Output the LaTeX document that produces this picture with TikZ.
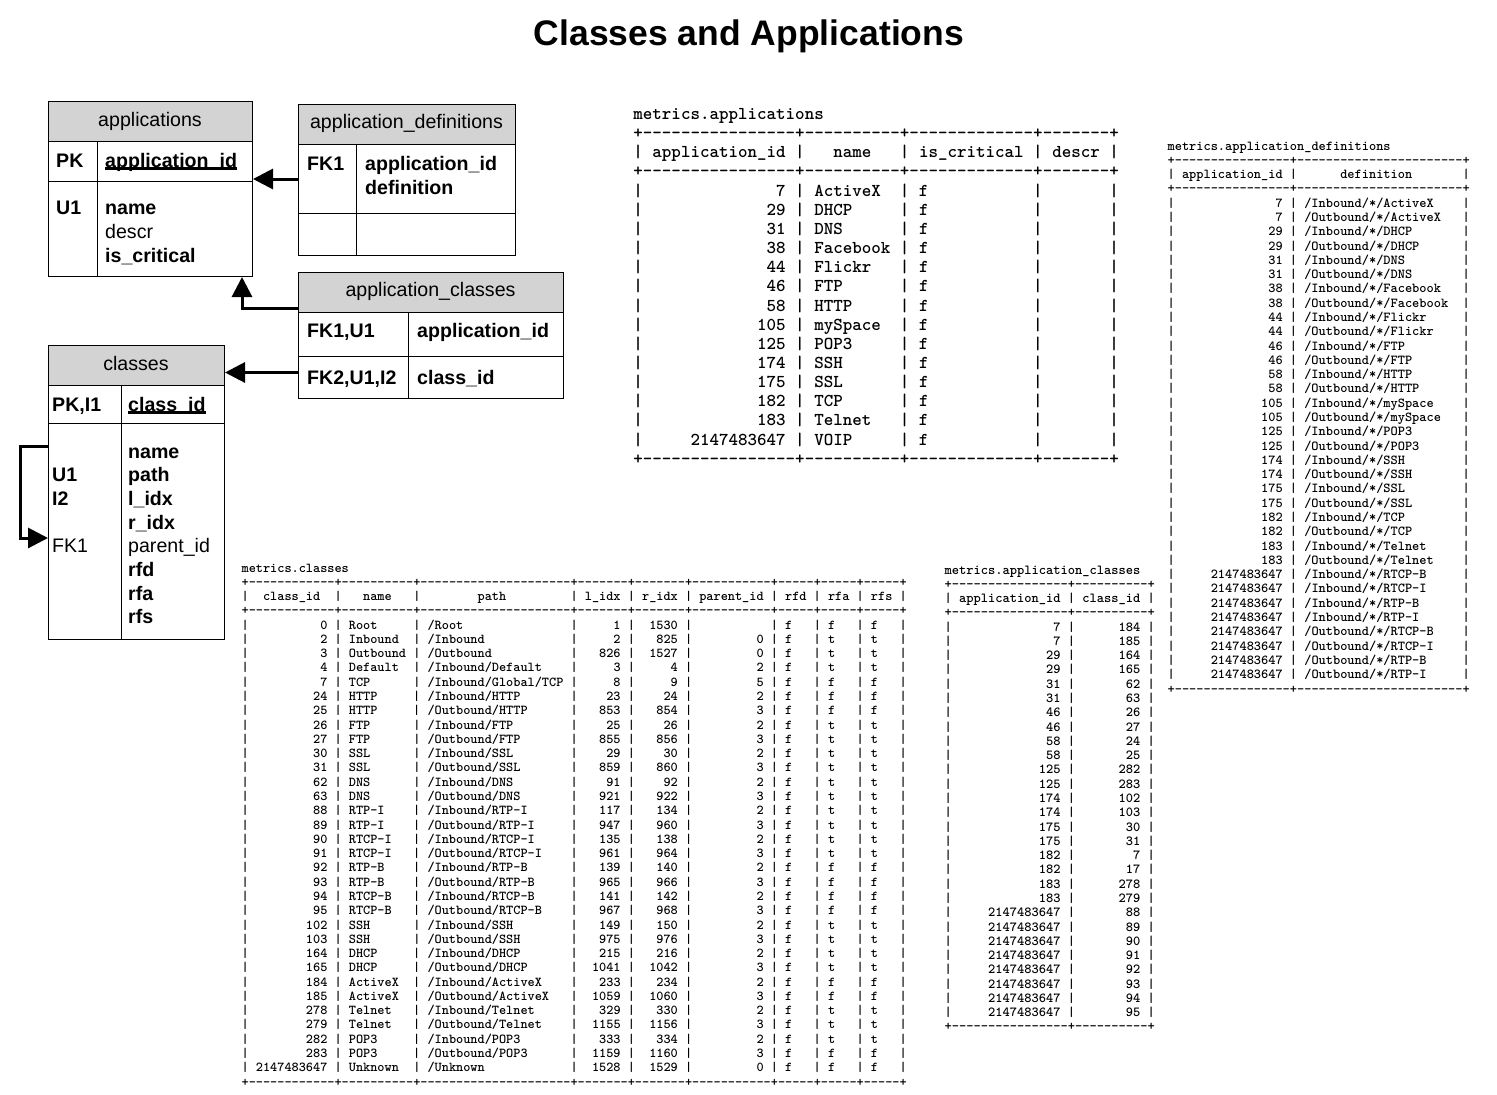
\documentclass[tikz,border=0pt]{standalone}
\usepackage{fontspec}
\setmainfont{Liberation Sans}
\usetikzlibrary{arrows.meta}
\definecolor{hdr}{RGB}{211,211,211}
\ExplSyntaxOn
\cs_new:Npn \dsh #1 { \prg_replicate:nn {#1} {\hbox{-}} }
\ExplSyntaxOff
\makeatletter
\newcommand\ttw[1]{%
  \ttfamily\bfseries\fontsize{10}{12}\selectfont
  \edef\tt@s{\the\dimexpr 10pt*\number\dimexpr#1pt\relax/\number\fontcharwd\font`0\relax}%
  \fontsize{\tt@s}{14}\selectfont
  \edef\tt@t{\the\dimexpr \tt@s*\number\dimexpr#1pt\relax/\number\fontcharwd\font`0\relax}%
  \fontsize{\tt@t}{14}\selectfont}
\makeatother
\newcommand\cc[1]{\dimexpr\fontcharwd\font`0*#1\relax}
\newcommand\sk[1]{\kern\cc{#1}}
\newcommand\rb[2]{\makebox[\cc{#1}][r]{#2}}
\newcommand\lb[2]{\makebox[\cc{#1}][l]{#2}}
\newcommand\arow[3]{| \rb{14}{#1} | \lb{8}{#2} | \lb{11}{#3} | \lb{5}{} |}
\newcommand\crow[9]{| \rb{10}{#1} | \lb{8}{#2} | \lb{19}{#3} | \rb{5}{#4} | \rb{5}{#5} | \rb{9}{#6} | \lb{3}{#7} | \lb{3}{#8} | \lb{3}{#9} |}
\newcommand\drow[2]{| \rb{14}{#1} | \lb{21}{#2} |}
\newcommand\acrow[2]{| \rb{14}{#1} | \rb{8}{#2} |}
\newcommand\aborder{+\dsh{16}+\dsh{10}+\dsh{13}+\dsh{7}+}
\newcommand\cborder{+\dsh{12}+\dsh{10}+\dsh{21}+\dsh{7}+\dsh{7}+\dsh{11}+\dsh{5}+\dsh{5}+\dsh{5}+}
\newcommand\dborder{+\dsh{16}+\dsh{23}+}
\newcommand\acborder{+\dsh{16}+\dsh{10}+}
\begin{document}
\begin{tikzpicture}[x=1pt,y=-1pt,
  erf/.style={font=\fontsize{19.6}{24}\selectfont, inner sep=0pt, anchor=base west},
  erb/.style={erf, font=\fontsize{19.6}{24}\selectfont\bfseries},
  erh/.style={font=\fontsize{19.6}{24}\selectfont, inner sep=0pt, anchor=base},
  box/.style={draw, line width=1pt, inner sep=0pt, anchor=north west},
  hbox/.style={box, fill=hdr},
  divl/.style={line width=1pt},
  arr/.style={line width=3pt, -{Triangle[length=20pt,width=20pt]}},
  ttl/.style={anchor=base west, inner sep=0pt},
  ulin/.style={line width=2.5pt}
]
\useasboundingbox (0,0) rectangle (1497,1095);
\fill[white] (0,0) rectangle (1497,1095);

% title
\node[font=\fontsize{35.5}{40}\selectfont\bfseries, anchor=base, inner sep=0pt] (title) at (749,45.5) {Classes and Applications};

% ---------- ER: applications
\node[hbox, minimum width=204pt, minimum height=40pt] (appsH) at (48,101) {};
\node[box, minimum width=204pt, minimum height=40pt] (appsK) at (48,141) {};
\node[box, minimum width=204pt, minimum height=95pt] (appsB) at (48,181) {};
\draw[divl] ([xshift=49pt]appsK.north west) -- ([xshift=49pt]appsB.south west);
\node[erh] (tA) at (150,126.7) {applications};
\node[erb] (pkA) at (56,167) {PK};
\node[erb] (idA) at (105,167) {application\_id};
\draw[ulin] ([yshift=-1.5pt]idA.base west) -- ([yshift=-1.5pt]idA.base east);
\node[erb] (u1A) at (56,214) {U1};
\node[erb] (nmA) at (105,214) {name};
\node[erf] (dsA) at (105,238) {descr};
\node[erb] (icA) at (105,262) {is\_critical};

% ---------- ER: application_definitions
\node[hbox, minimum width=217pt, minimum height=40pt] (defH) at (298,104) {};
\node[box, minimum width=217pt, minimum height=69pt] (defR1) at (298,144) {};
\node[box, minimum width=217pt, minimum height=42pt] (defR2) at (298,213) {};
\draw[divl] ([xshift=58pt]defR1.north west) -- ([xshift=58pt]defR2.south west);
\node[erh] (tD) at (406.5,128) {application\_definitions};
\node[erb] (fkD) at (307,170) {FK1};
\node[erb] (idD) at (365,170) {application\_id};
\node[erb] (dfD) at (365,194) {definition};

% ---------- ER: application_classes
\node[hbox, minimum width=265pt, minimum height=40pt] (acH) at (298,272) {};
\node[box, minimum width=265pt, minimum height=44pt] (acR1) at (298,312) {};
\node[box, minimum width=265pt, minimum height=42pt] (acR2) at (298,356) {};
\draw[divl] ([xshift=110pt]acR1.north west) -- ([xshift=110pt]acR2.south west);
\node[erh] (tC) at (430.5,296.7) {application\_classes};
\node[erb] (fkC1) at (307,337) {FK1,U1};
\node[erb] (idC) at (417,337) {application\_id};
\node[erb] (fkC2) at (307,384) {FK2,U1,I2};
\node[erb] (ciC) at (417,384) {class\_id};

% ---------- ER: classes
\node[hbox, minimum width=176pt, minimum height=40pt] (clsH) at (48,345) {};
\node[box, minimum width=176pt, minimum height=38pt] (clsK) at (48,385) {};
\node[box, minimum width=176pt, minimum height=216pt] (clsB) at (48,423) {};
\draw[divl] ([xshift=73pt]clsK.north west) -- ([xshift=73pt]clsB.south west);
\node[erh] (tK) at (136,370) {classes};
\node[erb] (pkK) at (52,411) {PK,I1};
\node[erb] (idK) at (128,411) {class\_id};
\draw[ulin] ([yshift=-1.5pt]idK.base west) -- ([yshift=-1.5pt]idK.base east);
\node[erb] (k1) at (128,458) {name};
\node[erb] (k2) at (128,481.7) {path};
\node[erb] (k3) at (128,505.4) {l\_idx};
\node[erb] (k4) at (128,529.1) {r\_idx};
\node[erf] (k5) at (128,552.8) {parent\_id};
\node[erb] (k6) at (128,576.5) {rfd};
\node[erb] (k7) at (128,600.2) {rfa};
\node[erb] (k8) at (128,623.9) {rfs};
\node[erb] (ku1) at (52,481.7) {U1};
\node[erb] (ki2) at (52,505.4) {I2};
\node[erf] (kfk) at (52,552.8) {FK1};

% ---------- connectors
\draw[arr] (defR1.west) -- (defR1.west -| appsK.east);
\draw[arr] ([yshift=5pt]acH.south west) -| ([xshift=-11pt]appsB.south east);
\draw[arr] ([yshift=5pt]acR2.west) -- ([yshift=5pt]acR2.west -| clsH.east);
\draw[arr] ([yshift=-23pt]clsB.north west) -- ++(-28,0) |- ([yshift=-115pt]clsB.north west);

% ---------- metrics.applications
\begin{scope}[every node/.style={ttl, font=\ttw{9.52}}]
\node (aT) at (633.2,119.5) {metrics.applications};
\node (aB1) at (633.2,{119.5+19.15*1}) {\aborder};
\node (aHd) at (633.2,{119.5+19.15*2}) {| application\_id | \makebox[\cc{8}][c]{name} | is\_critical | descr |};
\node (aB2) at (633.2,{119.5+19.15*3}) {\aborder};
\foreach \id/\nm [count=\k from 4] in {7/ActiveX, 29/DHCP, 31/DNS, 38/Facebook, 44/Flickr, 46/FTP, 58/HTTP, 105/mySpace, 125/POP3, 174/SSH, 175/SSL, 182/TCP, 183/Telnet, 2147483647/VOIP}
  \node (aR\k) at (633.2,{119.5+19.15*\k}) {\arow{\id}{\nm}{f}};
\node (aB3) at (633.2,{119.5+19.15*18}) {\aborder};
\end{scope}

% ---------- metrics.application_definitions
\begin{scope}[every node/.style={ttl, font=\ttw{7.195}}]
\node (dT) at (1167.4,150) {metrics.application\_definitions};
\node (dB1) at (1167.4,{150+14.29*1}) {\dborder};
\node (dHd) at (1167.4,{150+14.29*2}) {| application\_id |\sk{6}definition\sk{7}|};
\node (dB2) at (1167.4,{150+14.29*3}) {\dborder};
\foreach \id/\nm/\dr [count=\k from 4] in {7/ActiveX/Inbound, 7/ActiveX/Outbound, 29/DHCP/Inbound, 29/DHCP/Outbound, 31/DNS/Inbound, 31/DNS/Outbound, 38/Facebook/Inbound, 38/Facebook/Outbound, 44/Flickr/Inbound, 44/Flickr/Outbound, 46/FTP/Inbound, 46/FTP/Outbound, 58/HTTP/Inbound, 58/HTTP/Outbound, 105/mySpace/Inbound, 105/mySpace/Outbound, 125/POP3/Inbound, 125/POP3/Outbound, 174/SSH/Inbound, 174/SSH/Outbound, 175/SSL/Inbound, 175/SSL/Outbound, 182/TCP/Inbound, 182/TCP/Outbound, 183/Telnet/Inbound, 183/Telnet/Outbound, 2147483647/RTCP-B/Inbound, 2147483647/RTCP-I/Inbound, 2147483647/RTP-B/Inbound, 2147483647/RTP-I/Inbound, 2147483647/RTCP-B/Outbound, 2147483647/RTCP-I/Outbound, 2147483647/RTP-B/Outbound, 2147483647/RTP-I/Outbound}
  \node (dR\k) at (1167.4,{150+14.29*\k}) {\drow{\id}{/\dr/*/\nm}};
\node (dB3) at (1167.4,{150+14.29*38}) {\dborder};
\end{scope}

% ---------- metrics.application_classes
\begin{scope}[every node/.style={ttl, font=\ttw{7.25}}]
\node (cT) at (944.4,574) {metrics.application\_classes};
\node (cB1) at (944.4,{574+14.28*1}) {\acborder};
\node (cHd) at (944.4,{574+14.28*2}) {| application\_id | class\_id |};
\node (cB2) at (944.4,{574+14.28*3}) {\acborder};
\foreach \id/\ci [count=\k from 4] in {7/184, 7/185, 29/164, 29/165, 31/62, 31/63, 46/26, 46/27, 58/24, 58/25, 125/282, 125/283, 174/102, 174/103, 175/30, 175/31, 182/7, 182/17, 183/278, 183/279, 2147483647/88, 2147483647/89, 2147483647/90, 2147483647/91, 2147483647/92, 2147483647/93, 2147483647/94, 2147483647/95}
  \node (cR\k) at (944.4,{574+14.28*\k}) {\acrow{\id}{\ci}};
\node (cB3) at (944.4,{574+14.28*32}) {\acborder};
\end{scope}

% ---------- metrics.classes
\begin{scope}[every node/.style={ttl, font=\ttw{7.152}}]
\node (kT) at (241.4,572) {metrics.classes};
\node (kB1) at (241.4,{572+14.28*1}) {\cborder};
\node (kHd) at (241.4,{572+14.28*2}) {| \makebox[\cc{10}][c]{class\_id} | \makebox[\cc{8}][c]{name} | \lb{19}{\sk{7}path} | l\_idx | r\_idx | parent\_id | rfd | rfa | rfs |};
\node (kB2) at (241.4,{572+14.28*3}) {\cborder};
\foreach \ln [count=\k from 4] in {
 {\crow{0}{Root}{/Root}{1}{1530}{}{f}{f}{f}},
 {\crow{2}{Inbound}{/Inbound}{2}{825}{0}{f}{t}{t}},
 {\crow{3}{Outbound}{/Outbound}{826}{1527}{0}{f}{t}{t}},
 {\crow{4}{Default}{/Inbound/Default}{3}{4}{2}{f}{t}{t}},
 {\crow{7}{TCP}{/Inbound/Global/TCP}{8}{9}{5}{f}{f}{f}},
 {\crow{24}{HTTP}{/Inbound/HTTP}{23}{24}{2}{f}{f}{f}},
 {\crow{25}{HTTP}{/Outbound/HTTP}{853}{854}{3}{f}{f}{f}},
 {\crow{26}{FTP}{/Inbound/FTP}{25}{26}{2}{f}{t}{t}},
 {\crow{27}{FTP}{/Outbound/FTP}{855}{856}{3}{f}{t}{t}},
 {\crow{30}{SSL}{/Inbound/SSL}{29}{30}{2}{f}{t}{t}},
 {\crow{31}{SSL}{/Outbound/SSL}{859}{860}{3}{f}{t}{t}},
 {\crow{62}{DNS}{/Inbound/DNS}{91}{92}{2}{f}{t}{t}},
 {\crow{63}{DNS}{/Outbound/DNS}{921}{922}{3}{f}{t}{t}},
 {\crow{88}{RTP-I}{/Inbound/RTP-I}{117}{134}{2}{f}{t}{t}},
 {\crow{89}{RTP-I}{/Outbound/RTP-I}{947}{960}{3}{f}{t}{t}},
 {\crow{90}{RTCP-I}{/Inbound/RTCP-I}{135}{138}{2}{f}{t}{t}},
 {\crow{91}{RTCP-I}{/Outbound/RTCP-I}{961}{964}{3}{f}{t}{t}},
 {\crow{92}{RTP-B}{/Inbound/RTP-B}{139}{140}{2}{f}{f}{f}},
 {\crow{93}{RTP-B}{/Outbound/RTP-B}{965}{966}{3}{f}{f}{f}},
 {\crow{94}{RTCP-B}{/Inbound/RTCP-B}{141}{142}{2}{f}{f}{f}},
 {\crow{95}{RTCP-B}{/Outbound/RTCP-B}{967}{968}{3}{f}{f}{f}},
 {\crow{102}{SSH}{/Inbound/SSH}{149}{150}{2}{f}{t}{t}},
 {\crow{103}{SSH}{/Outbound/SSH}{975}{976}{3}{f}{t}{t}},
 {\crow{164}{DHCP}{/Inbound/DHCP}{215}{216}{2}{f}{t}{t}},
 {\crow{165}{DHCP}{/Outbound/DHCP}{1041}{1042}{3}{f}{t}{t}},
 {\crow{184}{ActiveX}{/Inbound/ActiveX}{233}{234}{2}{f}{f}{f}},
 {\crow{185}{ActiveX}{/Outbound/ActiveX}{1059}{1060}{3}{f}{f}{f}},
 {\crow{278}{Telnet}{/Inbound/Telnet}{329}{330}{2}{f}{t}{t}},
 {\crow{279}{Telnet}{/Outbound/Telnet}{1155}{1156}{3}{f}{t}{t}},
 {\crow{282}{POP3}{/Inbound/POP3}{333}{334}{2}{f}{t}{t}},
 {\crow{283}{POP3}{/Outbound/POP3}{1159}{1160}{3}{f}{f}{f}},
 {\crow{2147483647}{Unknown}{/Unknown}{1528}{1529}{0}{f}{f}{f}}}
  \node (kR\k) at (241.4,{572+14.28*\k}) {\ln};
\node (kB3) at (241.4,{572+14.28*36}) {\cborder};
\end{scope}
\end{tikzpicture}
\end{document}
